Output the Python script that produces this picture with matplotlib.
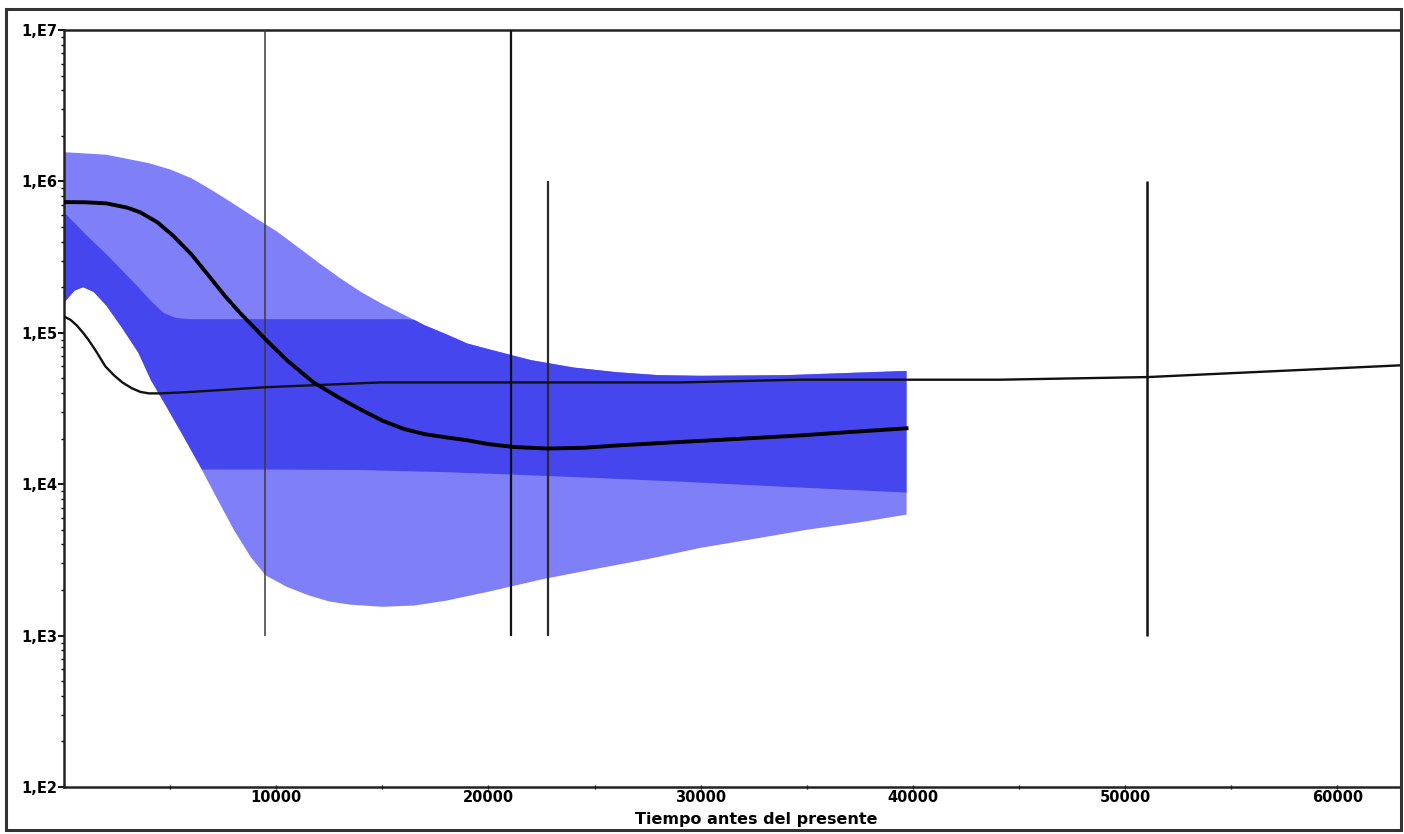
import matplotlib
import matplotlib.pyplot as plt
from matplotlib.patches import Rectangle
from matplotlib.ticker import FixedLocator, LogLocator, NullFormatter

matplotlib.use("Agg")

# outer 95% HPD envelope (smooth skyline), upper and lower edges
x_outer_hi = [0, 2000, 4000, 5000, 6000, 7000, 8000, 9000, 10000, 11000,
              12000, 13000, 14000, 15000, 16000, 17000, 18000, 19000, 20000,
              22000, 24000, 26000, 28000, 30000, 34000, 39700]
outer_hi = [1.56e6, 1.50e6, 1.32e6, 1.20e6, 1.05e6, 8.7e5, 7.1e5, 5.75e5,
            4.7e5, 3.7e5, 2.9e5, 2.3e5, 1.86e5, 1.55e5, 1.32e5, 1.12e5,
            9.8e4, 8.5e4, 7.8e4, 6.6e4, 5.9e4, 5.5e4, 5.25e4, 5.2e4,
            5.25e4, 5.6e4]
x_outer_lo = [0, 500, 900, 1400, 2000, 2750, 3500, 4100, 4800, 5600, 6400,
              7200, 8000, 8800, 9500, 10500, 11500, 12500, 13500, 15000,
              16500, 18000, 20000, 22500, 25000, 27500, 30000, 32500, 35000,
              37500, 39700]
outer_lo = [1.58e5, 1.9e5, 2.0e5, 1.86e5, 1.51e5, 1.07e5, 7.4e4, 4.85e4,
            3.3e4, 2.1e4, 1.32e4, 8.1e3, 5.0e3, 3.3e3, 2.5e3, 2.1e3, 1.85e3,
            1.68e3, 1.6e3, 1.55e3, 1.58e3, 1.7e3, 1.95e3, 2.35e3, 2.75e3,
            3.2e3, 3.8e3, 4.35e3, 5.0e3, 5.6e3, 6.3e3]

# inner band
x_inner_hi = [0, 1100, 2000, 2750, 3500, 4100, 4700, 5300, 6000, 10000,
              16000, 16500, 17000, 18000, 19000, 20000, 22000, 24000, 26000,
              28000, 30000, 34000, 39700]
inner_hi = [6.25e5, 4.35e5, 3.3e5, 2.57e5, 2.0e5, 1.62e5, 1.35e5, 1.25e5,
            1.23e5, 1.23e5, 1.23e5, 1.22e5, 1.12e5, 9.8e4, 8.5e4, 7.8e4,
            6.6e4, 5.9e4, 5.5e4, 5.25e4, 5.2e4, 5.25e4, 5.6e4]
x_inner_lo = [0, 500, 900, 1400, 2000, 2750, 3500, 4100, 4800, 5600, 6500,
              10000, 14000, 18000, 21000, 25000, 29000, 34700, 39700]
inner_lo = [1.58e5, 1.9e5, 2.0e5, 1.86e5, 1.51e5, 1.07e5, 7.4e4, 4.85e4,
            3.3e4, 2.1e4, 1.25e4, 1.25e4, 1.24e4, 1.2e4, 1.16e4, 1.1e4,
            1.04e4, 9.5e3, 8.8e3]

# median of the skyline
x_med = [0, 1000, 2000, 3000, 3600, 4400, 5150, 6000, 6800, 7600, 8300,
         9000, 9480, 10500, 11760, 13000, 14000, 15000, 16000, 17000, 18000,
         19000, 20000, 21200, 22800, 24500, 26000, 29000, 32000, 34700,
         37000, 39700]
med = [7.3e5, 7.28e5, 7.16e5, 6.7e5, 6.24e5, 5.37e5, 4.37e5, 3.3e5, 2.4e5,
       1.74e5, 1.35e5, 1.07e5, 9.1e4, 6.6e4, 4.7e4, 3.7e4, 3.1e4, 2.63e4,
       2.32e4, 2.14e4, 2.04e4, 1.95e4, 1.84e4, 1.76e4, 1.72e4, 1.74e4,
       1.8e4, 1.9e4, 2.0e4, 2.1e4, 2.21e4, 2.34e4]

# second trajectory
x_alt = [0, 300, 600, 900, 1150, 1500, 1950, 2350, 2750, 3200, 3600, 4000,
         4540, 6000, 9480, 14900, 29000, 34700, 44100, 51050, 63000]
alt = [1.28e5, 1.22e5, 1.12e5, 1.0e5, 9.0e4, 7.6e4, 6.0e4, 5.25e4, 4.7e4,
       4.3e4, 4.07e4, 3.98e4, 3.98e4, 4.07e4, 4.37e4, 4.7e4, 4.7e4, 4.9e4,
       4.9e4, 5.1e4, 6.1e4]

# reference dates
mark_x = [9480, 21070, 22810, 51050]
mark_top = [1e7, 1e7, 1e6, 1e6]
mark_bottom = [1e3, 1e3, 1e3, 1e3]
mark_lw = [1.1, 1.6, 1.6, 1.8]
mark_color = ["#3a3a3a", "#111111", "#2a2a2a", "#111111"]

y_ticks = [1e2, 1e3, 1e4, 1e5, 1e6, 1e7]
y_labels = ["1,E2", "1,E3", "1,E4", "1,E5", "1,E6", "1,E7"]
x_ticks = [10000, 20000, 30000, 40000, 50000, 60000]
x_labels = ["10000", "20000", "30000", "40000", "50000", "60000"]

plt.rcParams["font.family"] = ["DejaVu Sans"]
plt.rcParams["font.weight"] = "bold"


def band(ax, x_hi, hi, x_lo, lo, color, z):
    """Fills the region between an upper and a lower edge read on separate grids."""
    xs = list(x_hi) + list(x_lo)[::-1]
    ys = list(hi) + list(lo)[::-1]
    ax.fill(xs, ys, color=color, lw=0, zorder=z)


fig = plt.figure(figsize=(14.04, 8.34), dpi=100)
ax = fig.add_axes([64 / 1404, 1 - 787 / 834, (1401 - 64) / 1404, (787 - 30) / 834])

band(ax, x_outer_hi, outer_hi, x_outer_lo, outer_lo, "#7f7ff8", 1)
band(ax, x_inner_hi, inner_hi, x_inner_lo, inner_lo, "#4646ee", 2)

for x, y0, y1, lw, c in zip(mark_x, mark_bottom, mark_top, mark_lw, mark_color):
    ax.vlines(x, y0, y1, colors=c, lw=lw, zorder=3)

ax.plot(x_alt, alt, color="#111111", lw=1.7, zorder=4, solid_joinstyle="round")
ax.plot(x_med, med, color="black", lw=2.8, zorder=5, solid_joinstyle="round")

ax.set_yscale("log")
ax.set_xlim(0, 63000)
ax.set_ylim(1e2, 1e7)

ax.yaxis.set_major_locator(FixedLocator(y_ticks))
ax.set_yticklabels(y_labels)
ax.yaxis.set_minor_locator(LogLocator(base=10, subs=range(2, 10)))
ax.yaxis.set_minor_formatter(NullFormatter())
ax.set_xticks(x_ticks)
ax.set_xticklabels(x_labels)
ax.set_xticks([5000, 15000, 25000, 35000, 45000, 55000], minor=True)

ax.tick_params(axis="y", which="major", length=4, width=1.3, labelsize=10.5, pad=1)
ax.tick_params(axis="y", which="minor", length=2.5, width=1)
ax.tick_params(axis="x", which="both", direction="inout", length=3, width=1,
               labelsize=10.5, pad=1)

ax.set_xlabel("Tiempo antes del presente", fontsize=11.5, fontweight="bold")
ax.xaxis.set_label_coords(0.518, -0.033)

for side in ["left", "bottom", "top"]:
    ax.spines[side].set_linewidth(1.8)
    ax.spines[side].set_color("#222222")
ax.spines["right"].set_visible(False)

# frame round the whole figure
fig.patches.append(Rectangle((6 / 1404, 1 - 830 / 834), 1395 / 1404, 821 / 834,
                             transform=fig.transFigure, fill=False,
                             edgecolor="#333333", lw=2.2))

fig.savefig("out.png", dpi=100)
